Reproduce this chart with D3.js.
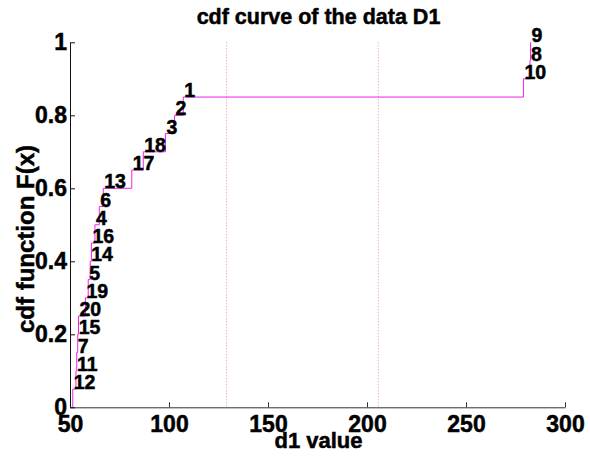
<!DOCTYPE html>
<html>
<head>
<meta charset="utf-8">
<script src="https://cdn.jsdelivr.net/npm/d3@7/dist/d3.min.js"></script>
<style>
  html, body { margin: 0; padding: 0; background: #fff; }
  svg { display: block; }
  text { font-family: "Liberation Sans", Arial, sans-serif; font-weight: bold; fill: #000; }
</style>
</head>
<body>
<svg id="chart" width="590" height="457"></svg>
<script>
// ---- data ----
const pointIds  = [12, 11, 7, 15, 20, 19, 5, 14, 16, 4, 6, 13, 17, 18, 3, 2, 1, 10, 8, 9];
const d1Values  = [51.4, 53.0, 53.4, 53.9, 54.3, 57.8, 59.2, 60.2, 60.8, 62.6, 64.8, 66.8, 81.2, 87.0, 98.2, 102.8, 107.2, 279.0, 282.3, 282.6];
const cdfValues = [0.05, 0.10, 0.15, 0.20, 0.25, 0.30, 0.35, 0.40, 0.45, 0.50, 0.55, 0.60, 0.65, 0.70, 0.75, 0.80, 0.85, 0.90, 0.95, 1.00];
const markerLines = [129.1, 205.7];
const xTicks = [50, 100, 150, 200, 250, 300];
const yTicks = [0, 0.2, 0.4, 0.6, 0.8, 1];
const yTickLabels = ["0", "0.2", "0.4", "0.6", "0.8", "1"];

const titleText = "cdf curve of the data D1";
const xLabelText = "d1 value";
const yLabelText = "cdf function F(x)";

(function () {
const svg = d3.select("#chart");
const mLeft = 70, mRight = 565, mTop = 42.3, mBottom = 407.3;

const x = d3.scaleLinear().domain([50, 300]).range([mLeft, mRight]);
const y = d3.scaleLinear().domain([0, 1]).range([mBottom, mTop]);

const heavy = sel => sel.attr("stroke", "#000").attr("stroke-width", 0.5).attr("paint-order", "stroke");

// marker dotted lines
svg.selectAll("line.marker").data(markerLines).enter().append("line")
  .attr("class", "marker")
  .attr("x1", d => x(d)).attr("x2", d => x(d))
  .attr("y1", y(1)).attr("y2", y(0))
  .attr("stroke", "#f08a8a")
  .attr("stroke-width", 1)
  .attr("stroke-dasharray", "1,2");

// step CDF path
const pts = [];
d1Values.forEach((v, i) => {
  const prev = i === 0 ? 0 : cdfValues[i - 1];
  pts.push([v, prev]);
  pts.push([v, cdfValues[i]]);
});
const line = d3.line().x(d => x(d[0])).y(d => y(d[1]));
svg.append("path")
  .attr("d", line(pts))
  .attr("fill", "none")
  .attr("stroke", "#ee22ee")
  .attr("stroke-width", 1);

// point labels
svg.selectAll("text.pt").data(pointIds).enter().append("text")
  .attr("class", "pt")
  .attr("x", (d, i) => x(d1Values[i]) + 1)
  .attr("y", (d, i) => y(cdfValues[i]))
  .attr("font-size", 19.5)
  .text(d => d)
  .call(heavy);

// axes
const xAxis = d3.axisBottom(x).tickValues(xTicks).tickSizeInner(-5).tickSizeOuter(0).tickPadding(8);
const gx = svg.append("g").attr("transform", `translate(0,${mBottom})`).call(xAxis);
gx.selectAll("text").attr("font-size", 23).attr("font-family", "Liberation Sans, Arial, sans-serif").attr("font-weight", "bold").attr("fill", "#000").call(heavy);
gx.select(".domain").attr("stroke", "#333");
gx.selectAll(".tick line").attr("stroke", "#333");

const yAxis = d3.axisLeft(y).tickValues(yTicks).tickFormat((d, i) => yTickLabels[i]).tickSizeInner(-5).tickSizeOuter(0).tickPadding(3);
const gy = svg.append("g").attr("transform", `translate(${mLeft},0)`).call(yAxis);
gy.selectAll("text").attr("font-size", 23).attr("font-family", "Liberation Sans, Arial, sans-serif").attr("font-weight", "bold").attr("fill", "#000").call(heavy);
gy.select(".domain").attr("stroke", "#111");
gy.selectAll(".tick line").attr("stroke", "#111");

// titles
svg.append("text").attr("x", (mLeft + mRight) / 2 + 1).attr("y", 24)
  .attr("text-anchor", "middle").attr("font-size", 21.5).text(titleText).call(heavy);
svg.append("text").attr("x", (mLeft + mRight) / 2 + 1).attr("y", 448)
  .attr("text-anchor", "middle").attr("font-size", 22).text(xLabelText).call(heavy);
svg.append("text")
  .attr("transform", `translate(34,239) rotate(-90)`)
  .attr("text-anchor", "middle").attr("font-size", 24).text(yLabelText).call(heavy);
})();
</script>
</body>
</html>
